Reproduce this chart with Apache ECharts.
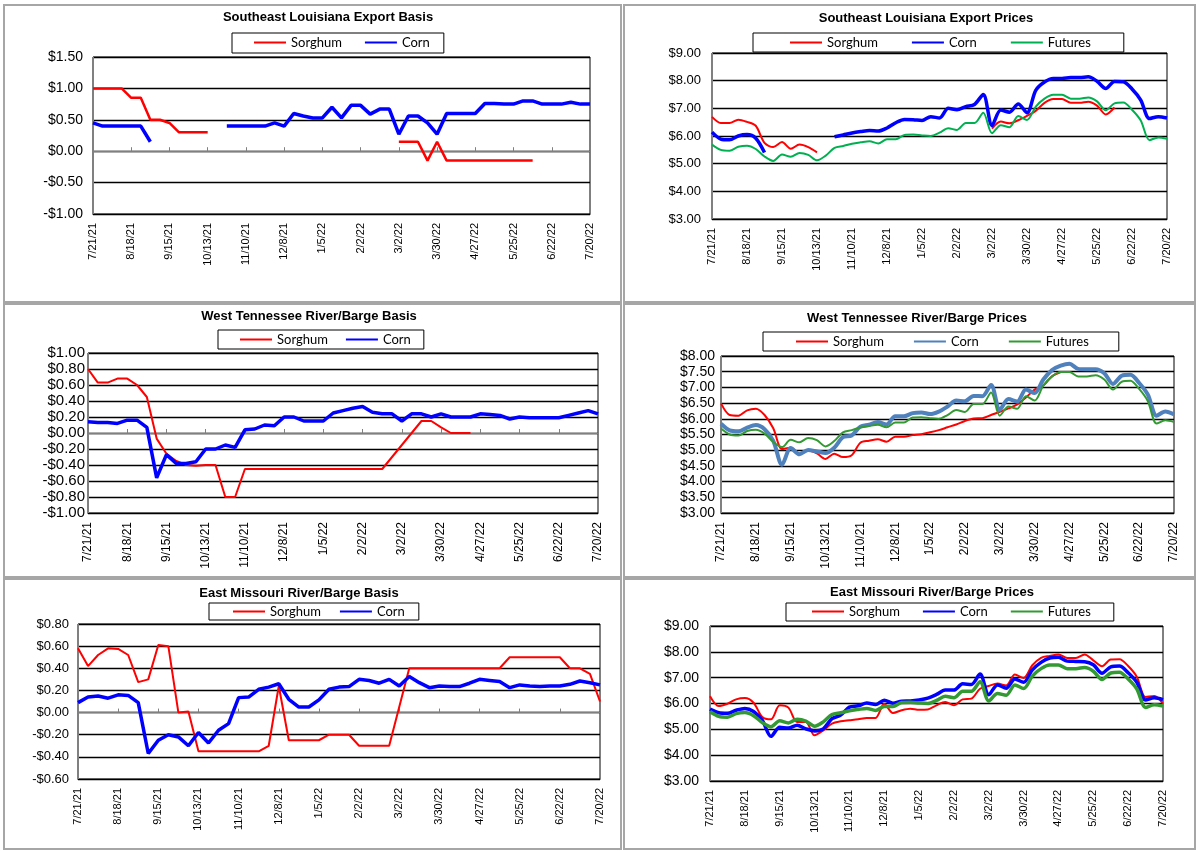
<!DOCTYPE html>
<html><head><meta charset="utf-8">
<script src="https://cdn.jsdelivr.net/npm/echarts@6/dist/echarts.min.js"></script>
<style>html,body{margin:0;padding:0;background:#fff}#c{width:1199px;height:851px}</style>
</head><body><div id="c"></div>
<script>
// ---------------- DATA ----------------
const dates = ['7/21/21','7/28/21','8/4/21','8/11/21','8/18/21','8/25/21','9/1/21','9/8/21','9/15/21','9/22/21','9/29/21','10/6/21','10/13/21','10/20/21','10/27/21','11/3/21','11/10/21','11/17/21','11/24/21','12/1/21','12/8/21','12/15/21','12/22/21','12/29/21','1/5/22','1/12/22','1/19/22','1/26/22','2/2/22','2/9/22','2/16/22','2/23/22','3/2/22','3/9/22','3/16/22','3/23/22','3/30/22','4/6/22','4/13/22','4/20/22','4/27/22','5/4/22','5/11/22','5/18/22','5/25/22','6/1/22','6/8/22','6/15/22','6/22/22','6/29/22','7/6/22','7/13/22','7/20/22'];

const futures = [5.69,5.50,5.47,5.61,5.65,5.53,5.26,5.10,5.33,5.25,5.39,5.32,5.12,5.29,5.57,5.64,5.72,5.77,5.81,5.73,5.88,5.88,6.04,6.05,6.02,6.00,6.12,6.28,6.22,6.47,6.47,6.84,6.10,6.39,6.32,6.72,6.58,7.06,7.35,7.49,7.49,7.35,7.35,7.39,7.25,6.93,7.18,7.21,6.95,6.56,5.85,5.95,5.90];

// Southeast Louisiana Export
const seBasisSorghum = [1.00,1.00,1.00,1.00,0.85,0.85,0.50,0.50,0.45,0.30,0.30,0.30,0.30,null,null,null,null,null,null,null,null,null,null,null,null,null,null,null,null,null,null,null,0.15,0.15,0.15,-0.15,0.15,-0.15,-0.15,-0.15,-0.15,-0.15,-0.15,-0.15,-0.15,-0.15,-0.15,null,null,null,null,null,null];
const seBasisCorn = [0.45,0.40,0.40,0.40,0.40,0.40,0.15,null,null,null,null,null,null,null,0.40,0.40,0.40,0.40,0.40,0.45,0.40,0.60,0.56,0.53,0.53,0.70,0.53,0.73,0.73,0.59,0.67,0.67,0.27,0.56,0.56,0.45,0.27,0.60,0.60,0.60,0.60,0.76,0.76,0.75,0.75,0.80,0.80,0.75,0.75,0.75,0.78,0.75,0.75];
const sePriceSorghum = [6.69,6.47,6.47,6.59,6.51,6.37,5.75,5.60,5.78,5.54,5.69,5.60,5.41,null,null,null,null,null,null,null,null,null,null,null,null,null,null,null,null,null,null,null,6.27,6.52,6.46,6.57,6.73,6.91,7.20,7.34,7.34,7.20,7.20,7.24,7.10,6.78,7.03,null,null,null,null,null,null];
const sePriceCorn = [6.14,5.89,5.86,6.00,6.05,5.92,5.40,null,null,null,null,null,null,null,5.97,6.04,6.11,6.16,6.20,6.18,6.29,6.48,6.60,6.59,6.56,6.70,6.65,7.00,6.95,7.06,7.14,7.50,6.38,6.94,6.86,7.16,6.84,7.65,7.95,8.08,8.08,8.11,8.11,8.14,7.98,7.72,7.97,7.96,7.70,7.30,6.63,6.70,6.65];

// West Tennessee River/Barge
const wtBasisSorghum = [0.80,0.63,0.63,0.68,0.68,0.60,0.45,-0.07,-0.26,-0.35,-0.40,-0.41,-0.40,-0.40,-0.80,-0.80,-0.45,-0.45,-0.45,-0.45,-0.45,-0.45,-0.45,-0.45,-0.45,-0.45,-0.45,-0.45,-0.45,-0.45,-0.45,-0.30,-0.15,0.00,0.15,0.15,0.07,0.00,0.00,0.00,null,null,null,null,null,null,null,null,null,null,null,null,null];
const wtBasisCorn = [0.14,0.13,0.13,0.12,0.16,0.16,0.07,-0.56,-0.27,-0.38,-0.38,-0.36,-0.20,-0.20,-0.15,-0.18,0.04,0.05,0.10,0.09,0.20,0.20,0.15,0.15,0.15,0.25,0.28,0.31,0.33,0.26,0.24,0.24,0.15,0.24,0.24,0.20,0.24,0.20,0.20,0.20,0.24,0.23,0.22,0.175,0.20,0.19,0.19,0.19,0.19,0.22,0.25,0.28,0.24];
const wtPriceSorghum = [6.49,6.12,6.10,6.27,6.32,6.12,5.70,5.04,5.08,4.89,4.99,4.90,4.72,4.89,4.78,4.84,5.24,5.30,5.35,5.27,5.43,5.43,5.48,5.51,5.57,5.64,5.73,5.82,5.93,6.01,6.02,6.12,6.22,6.33,6.46,6.68,6.93,7.06,7.35,7.49,null,null,null,null,null,null,null,null,null,null,null,null,null];
const wtPriceCorn = [5.84,5.63,5.60,5.72,5.80,5.67,5.30,4.54,5.07,4.87,5.01,4.96,4.91,5.08,5.42,5.47,5.75,5.81,5.90,5.82,6.08,6.08,6.18,6.20,6.15,6.23,6.39,6.58,6.56,6.73,6.72,7.08,6.29,6.63,6.55,6.93,6.82,7.25,7.55,7.69,7.75,7.59,7.58,7.58,7.45,7.11,7.37,7.40,7.14,6.77,6.10,6.23,6.14];

// East Missouri River/Barge
const emBasisSorghum = [0.58,0.42,0.52,0.58,0.575,0.52,0.275,0.30,0.61,0.60,0.00,0.01,-0.35,-0.35,-0.35,-0.35,-0.35,-0.35,-0.35,-0.30,0.24,-0.25,-0.25,-0.25,-0.25,-0.20,-0.20,-0.20,-0.30,-0.30,-0.30,-0.30,0.05,0.40,0.40,0.40,0.40,0.40,0.40,0.40,0.40,0.40,0.40,0.50,0.50,0.50,0.50,0.50,0.50,0.40,0.40,0.35,0.10];
const emBasisCorn = [0.09,0.14,0.15,0.13,0.16,0.155,0.09,-0.37,-0.25,-0.20,-0.22,-0.30,-0.18,-0.275,-0.16,-0.10,0.135,0.14,0.21,0.23,0.26,0.12,0.05,0.05,0.115,0.21,0.23,0.235,0.30,0.29,0.265,0.30,0.24,0.325,0.27,0.225,0.24,0.235,0.235,0.265,0.30,0.29,0.28,0.225,0.25,0.24,0.235,0.24,0.24,0.255,0.285,0.27,0.25];
const emPriceSorghum = [6.28,5.90,5.99,6.16,6.21,6.03,5.48,5.39,5.93,5.84,5.28,5.28,4.77,4.96,5.22,5.31,5.35,5.39,5.44,5.44,5.99,5.63,5.74,5.80,5.76,5.77,5.93,6.06,5.93,6.16,6.19,6.57,6.68,6.77,6.70,7.12,6.99,7.48,7.77,7.84,7.90,7.76,7.76,7.90,7.67,7.44,7.70,7.71,7.45,7.03,6.25,6.29,5.99];
const emPriceCorn = [5.78,5.64,5.62,5.74,5.81,5.69,5.35,4.73,5.08,5.05,5.16,5.02,4.94,5.02,5.41,5.55,5.86,5.91,6.02,5.96,6.13,6.01,6.09,6.10,6.14,6.21,6.35,6.52,6.52,6.76,6.74,7.14,6.34,6.72,6.59,6.95,6.82,7.30,7.59,7.76,7.79,7.64,7.63,7.62,7.50,7.17,7.42,7.45,7.19,6.82,6.14,6.22,6.15];

// ---------------- CHART ----------------
const FONT = 'Liberation Sans, Arial, sans-serif';
const RED = '#ff0000', BLUE = '#0000ff', STEEL = '#4f81bd', GREEN1 = '#00b050', GREEN2 = '#339933';

function money(v) {
  if (Math.abs(v) < 1e-9) return '$0.00';
  return (v < 0 ? '-' : '') + '$' + Math.abs(v).toFixed(2);
}

const panels = [
  { title: 'Southeast Louisiana Export Basis', tx: 328, ty: 18,
    grid: { left: 93, top: 57, width: 497, height: 157 }, y: [-1, 1.5, 0.5], basis: true, yFont: 14, yMargin: 10, xFont: 11,
    legend: { left: 232, top: 33, pad: [3, 14, 4, 21], gap: 22 },
    series: [['Sorghum', seBasisSorghum, RED, 2.5, false], ['Corn', seBasisCorn, BLUE, 3.5, false]] },
  { title: 'Southeast Louisiana Export Prices', tx: 926, ty: 19,
    grid: { left: 712, top: 53, width: 455, height: 166 }, y: [3, 9, 1], basis: false, yFont: 13, yMargin: 11, xFont: 11,
    legend: { left: 753, top: 33, pad: [3, 33, 3, 36], gap: 33 },
    series: [['Sorghum', sePriceSorghum, RED, 2, true], ['Corn', sePriceCorn, BLUE, 3.5, true], ['Futures', futures, GREEN1, 2, true]] },
  { title: 'West Tennessee River/Barge Basis', tx: 309, ty: 317,
    grid: { left: 88, top: 353, width: 510, height: 160 }, y: [-1, 1, 0.2], basis: true, yFont: 15, yMargin: 3, xFont: 12,
    legend: { left: 218, top: 330, pad: [3, 13, 3, 21], gap: 17 },
    series: [['Sorghum', wtBasisSorghum, RED, 2, false], ['Corn', wtBasisCorn, BLUE, 3.5, false]] },
  { title: 'West Tennessee River/Barge Prices', tx: 917, ty: 319,
    grid: { left: 721, top: 356, width: 453, height: 157 }, y: [3, 8, 0.5], basis: false, yFont: 14, yMargin: 6, xFont: 12,
    legend: { left: 763, top: 332, pad: [3, 30, 3, 32], gap: 29 },
    series: [['Sorghum', wtPriceSorghum, RED, 2, true], ['Corn', wtPriceCorn, STEEL, 4, true], ['Futures', futures, GREEN2, 2, true]] },
  { title: 'East Missouri River/Barge Basis', tx: 299, ty: 594,
    grid: { left: 78, top: 624, width: 522, height: 155 }, y: [-0.6, 0.8, 0.2], basis: true, yFont: 13, yMargin: 9, xFont: 11,
    legend: { left: 209, top: 603, pad: [2, 14, 2, 23], gap: 18 },
    series: [['Sorghum', emBasisSorghum, RED, 2, false], ['Corn', emBasisCorn, BLUE, 3.5, false]] },
  { title: 'East Missouri River/Barge Prices', tx: 932, ty: 593,
    grid: { left: 710, top: 626, width: 453, height: 155 }, y: [3, 9, 1], basis: false, yFont: 14, yMargin: 11, xFont: 11,
    legend: { left: 786, top: 603, pad: [2, 23, 3, 25], gap: 22 },
    series: [['Sorghum', emPriceSorghum, RED, 2, true], ['Corn', emPriceCorn, BLUE, 3.5, true], ['Futures', futures, GREEN2, 3.5, true]] }
];

const option = {
  animation: false,
  backgroundColor: '#fff',
  title: [], grid: [], xAxis: [], yAxis: [], legend: [], series: [],
  graphic: [
    { type: 'rect', silent: true, shape: { x: 4, y: 5, width: 617, height: 297 }, style: { fill: 'none', stroke: '#a6a6a6', lineWidth: 2 } },
    { type: 'rect', silent: true, shape: { x: 624, y: 5, width: 571, height: 297 }, style: { fill: 'none', stroke: '#a6a6a6', lineWidth: 2 } },
    { type: 'rect', silent: true, shape: { x: 4, y: 304, width: 617, height: 273 }, style: { fill: 'none', stroke: '#a6a6a6', lineWidth: 2 } },
    { type: 'rect', silent: true, shape: { x: 624, y: 304, width: 571, height: 273 }, style: { fill: 'none', stroke: '#a6a6a6', lineWidth: 2 } },
    { type: 'rect', silent: true, shape: { x: 4, y: 579, width: 617, height: 270 }, style: { fill: 'none', stroke: '#a6a6a6', lineWidth: 2 } },
    { type: 'rect', silent: true, shape: { x: 624, y: 579, width: 571, height: 270 }, style: { fill: 'none', stroke: '#a6a6a6', lineWidth: 2 } }
  ]
};

const extraAxes = [];
panels.forEach((p, i) => {
  option.title.push({
    text: p.title, left: p.tx, top: p.ty - 7, textAlign: 'center', padding: 0,
    textStyle: { fontFamily: FONT, fontSize: 13, fontWeight: 'bold', color: '#000' }
  });
  option.grid.push(Object.assign({ show: true, borderColor: '#000', borderWidth: 1, backgroundColor: 'transparent' }, p.grid));
  option.xAxis.push({
    type: 'category', gridIndex: i, data: dates, boundaryGap: false,
    axisLine: { show: true, onZero: false, lineStyle: { color: '#000', width: 1 } },
    axisTick: { show: false },
    axisLabel: { interval: 3, rotate: 90, fontFamily: FONT, fontSize: p.xFont, color: '#000', margin: 9 },
    splitLine: { show: false }
  });
  option.yAxis.push({
    type: 'value', gridIndex: i, min: p.y[0], max: p.y[1], interval: p.y[2],
    axisLine: { show: true, lineStyle: { color: '#808080', width: 1 } },
    axisTick: { show: false },
    axisLabel: { formatter: money, fontFamily: FONT, fontSize: p.yFont, color: '#000', margin: p.yMargin },
    splitLine: { show: true, lineStyle: { color: '#000', width: 1.3 } }
  });
  if (p.basis) {
    extraAxes.push({
      type: 'category', gridIndex: i, data: dates, boundaryGap: false,
      axisLine: { show: true, onZero: true, lineStyle: { color: '#808080', width: 1.3 } },
      axisTick: { show: true, interval: 3, length: 4, lineStyle: { color: '#808080' } },
      axisLabel: { show: false }, splitLine: { show: false }
    });
  }
  const names = [];
  p.series.forEach(s => {
    const nm = s[0] + '#' + i;
    names.push(nm);
    option.series.push({
      name: nm, type: 'line', xAxisIndex: i, yAxisIndex: i, data: s[1],
      symbol: 'none', showSymbol: false, connectNulls: false,
      smooth: s[4] ? 0.3 : false,
      lineStyle: { color: s[2], width: s[3] }, itemStyle: { color: s[2] },
      emphasis: { disabled: true }
    });
  });
  option.legend.push({
    left: p.legend.left, top: p.legend.top, data: names, selectedMode: false,
    formatter: n => n.split('#')[0],
    borderColor: '#000', borderWidth: 1, padding: p.legend.pad,
    itemWidth: 32, itemHeight: 14, itemGap: p.legend.gap,
    itemStyle: { opacity: 0, borderWidth: 0 },
    lineStyle: { opacity: 1 },
    textStyle: { fontFamily: 'Lato, sans-serif', fontSize: 13, color: '#000' }
  });
});
option.xAxis = option.xAxis.concat(extraAxes);

const chart = echarts.init(document.getElementById('c'), null, { renderer: 'canvas' });
chart.setOption(option);
</script>
</body></html>
